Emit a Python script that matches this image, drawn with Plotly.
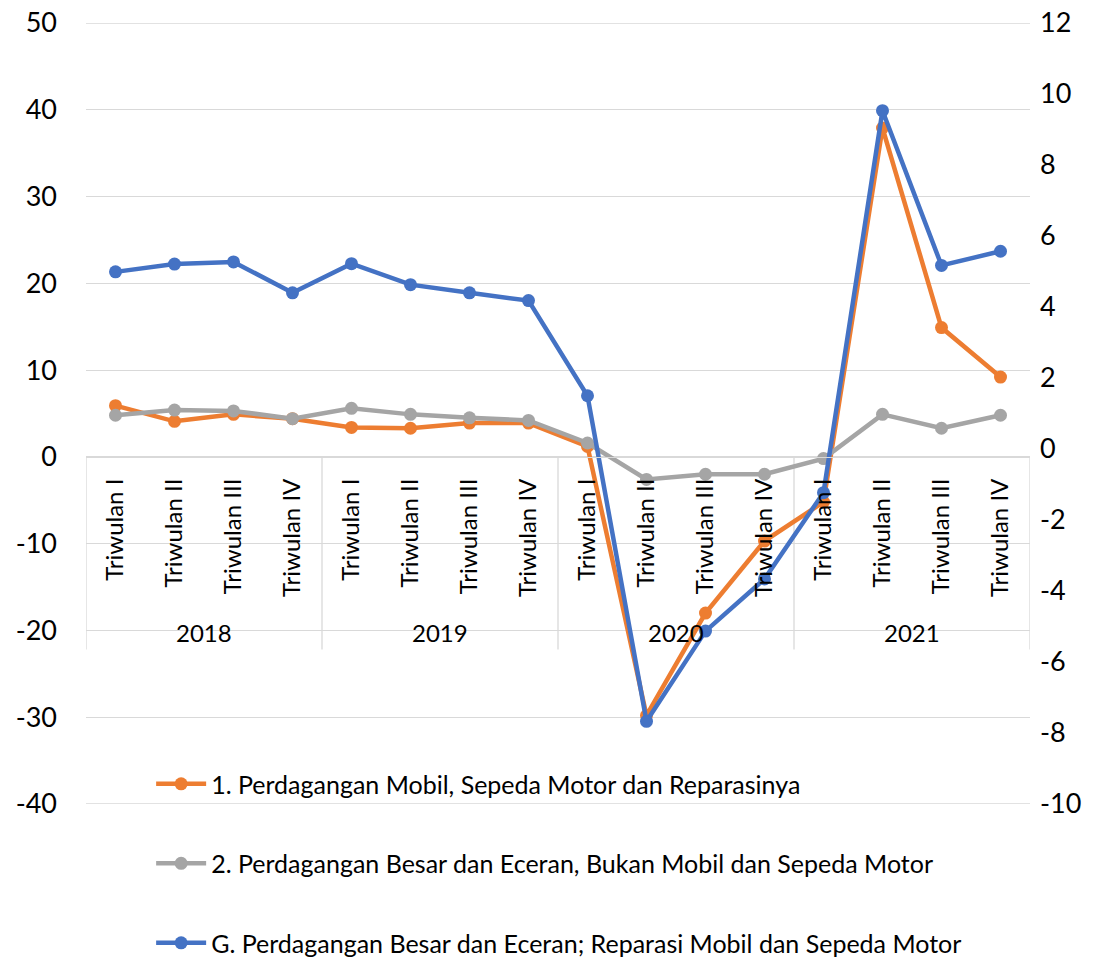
import plotly.graph_objects as go

# ---- data ----
years = ["2018", "2019", "2020", "2021"]
quarters = ["Triwulan I", "Triwulan II", "Triwulan III", "Triwulan IV"]
categories = [q for y in years for q in quarters]

series1_name = "1. Perdagangan Mobil, Sepeda Motor dan Reparasinya"
series2_name = "2. Perdagangan Besar dan Eceran, Bukan Mobil dan Sepeda Motor"
seriesG_name = "G. Perdagangan Besar dan Eceran; Reparasi Mobil dan Sepeda Motor"

series1 = [5.9, 4.1, 4.9, 4.4, 3.4, 3.3, 3.9, 3.9, 1.2, -29.8, -18.0, -9.7, -5.2, 37.9, 14.9, 9.2]
series2 = [4.8, 5.4, 5.3, 4.4, 5.6, 4.9, 4.5, 4.2, 1.6, -2.6, -2.0, -2.0, -0.2, 4.9, 3.3, 4.8]
seriesG = [4.99, 5.21, 5.27, 4.40, 5.22, 4.63, 4.40, 4.18, 1.50, -7.67, -5.13, -3.66, -1.23, 9.53, 5.17, 5.57]

left_min, left_max = -40, 50
right_min, right_max = -10, 12
left_ticks = [-40, -30, -20, -10, 0, 10, 20, 30, 40, 50]
right_ticks = [-10, -8, -6, -4, -2, 0, 2, 4, 6, 8, 10, 12]
left_ticktext = [str(v) for v in left_ticks]
right_ticktext = [str(v) for v in right_ticks]

left_range = [left_min, left_max]
right_range = [right_min, right_max]

# ---- styling ----
FONT = "Lato"
GRID = "#D9D9D9"
idx = list(range(len(categories)))

fig = go.Figure()
fig.add_trace(go.Scatter(
    x=idx, y=series1, name=series1_name, mode="lines+markers",
    line=dict(color="#ED7D31", width=4.5), marker=dict(size=13, color="#ED7D31"),
    legendgroup="s1"))
fig.add_trace(go.Scatter(
    x=idx, y=series2, name=series2_name, mode="lines+markers",
    line=dict(color="#A5A5A5", width=4.5), marker=dict(size=13, color="#A5A5A5"),
    legendgroup="s2"))
fig.add_trace(go.Scatter(
    x=idx, y=seriesG, name=seriesG_name, mode="lines+markers", yaxis="y2",
    line=dict(color="#4472C4", width=4.5), marker=dict(size=13, color="#4472C4"),
    legendgroup="s3"))

# year group labels and separators of the two-level category axis
n_per = len(quarters)
annotations = []
for i, yr in enumerate(years):
    annotations.append(dict(
        x=i * n_per + (n_per - 1) / 2, y=-20.2, xref="x", yref="y", text=yr,
        showarrow=False, font=dict(family=FONT, size=24, color="#000000"),
        xanchor="center", yanchor="middle"))
shapes = []
for i in range(len(years) + 1):
    b = i * n_per - 0.5
    shapes.append(dict(type="line", xref="x", yref="y", x0=b, x1=b, y0=0, y1=-22.2,
                       line=dict(color=GRID, width=1.3), layer="below"))
# gridlines at the two ends of the value range
for v in (left_min, left_max):
    shapes.append(dict(type="line", xref="paper", yref="y", x0=0, x1=1, y0=v, y1=v,
                       line=dict(color=GRID, width=1.3), layer="below"))

zero_pos = (0 - left_range[0]) / (left_range[1] - left_range[0])

fig.update_layout(
    width=1104, height=958,
    margin=dict(l=86, r=74, t=23, b=154, autoexpand=False),
    paper_bgcolor="white", plot_bgcolor="white",
    font=dict(family=FONT, color="#000000"),
    showlegend=True,
    legend=dict(
        x=0.069, y=0.055, xanchor="left", yanchor="top",
        font=dict(family=FONT, size=25, color="#000000"),
        bgcolor="rgba(0,0,0,0)", traceorder="grouped", tracegroupgap=44,
        itemwidth=50),
    xaxis=dict(
        range=[-0.5, len(categories) - 0.5], tickmode="array", tickvals=idx,
        ticktext=categories, tickangle=-90, anchor="free", position=zero_pos,
        showline=True, linecolor=GRID, linewidth=1.3, showgrid=False, zeroline=False,
        ticks="", tickfont=dict(family=FONT, size=24, color="#000000"),
        ticklabelstandoff=11, automargin=False),
    yaxis=dict(
        range=left_range, tickmode="array", tickvals=left_ticks, ticktext=left_ticktext,
        showgrid=True, gridcolor=GRID, gridwidth=1.3, ticklabeloverflow="allow",
        zeroline=False, ticks="", tickfont=dict(family=FONT, size=27, color="#000000"),
        ticklabelstandoff=28, automargin=False),
    yaxis2=dict(
        range=right_range, tickmode="array", tickvals=right_ticks, ticktext=right_ticktext,
        overlaying="y", side="right", showgrid=False, ticklabeloverflow="allow",
        zeroline=False, ticks="", tickfont=dict(family=FONT, size=27, color="#000000"),
        ticklabelstandoff=9, automargin=False),
    annotations=annotations,
    shapes=shapes,
)

fig.write_html("out.html",
               config={"displayModeBar": False},
               post_script="document.body.style.margin='0';document.body.style.overflow='hidden';")
